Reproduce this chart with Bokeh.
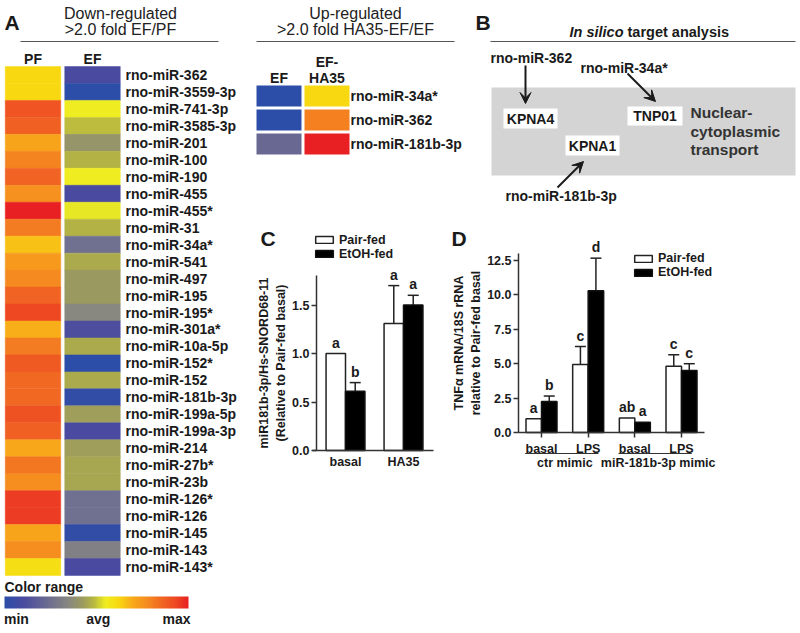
from bokeh.plotting import figure
from bokeh.models import (Range1d, FixedTicker, PrintfTickFormatter, LinearAxis,
                          LinearColorMapper, ColorBar, Label, Arrow, VeeHead, TeeHead,
                          Whisker, ColumnDataSource, Legend, LegendItem)
from bokeh.transform import dodge, linear_cmap
from bokeh.layouts import row, column
from bokeh.core.properties import value
from bokeh.embed import file_html
from bokeh.resources import INLINE

FONT = "Liberation Sans"
INK = "#1a1a1a"

# ---------------- data ----------------
down_mirnas = ["rno-miR-362", "rno-miR-3559-3p", "rno-miR-741-3p", "rno-miR-3585-3p",
               "rno-miR-201", "rno-miR-100", "rno-miR-190", "rno-miR-455", "rno-miR-455*",
               "rno-miR-31", "rno-miR-34a*", "rno-miR-541", "rno-miR-497", "rno-miR-195",
               "rno-miR-195*", "rno-miR-301a*", "rno-miR-10a-5p", "rno-miR-152*", "rno-miR-152",
               "rno-miR-181b-3p", "rno-miR-199a-5p", "rno-miR-199a-3p", "rno-miR-214",
               "rno-miR-27b*", "rno-miR-23b", "rno-miR-126*", "rno-miR-126", "rno-miR-145",
               "rno-miR-143", "rno-miR-143*"]
# relative expression, 0 = min, 0.5 = avg, 1 = max
down_pf = [0.62, 0.62, 0.90, 0.87, 0.71, 0.79, 0.86, 0.76, 1.00, 0.81, 0.66, 0.74, 0.78, 0.86,
           0.93, 0.69, 0.81, 0.89, 0.85, 0.85, 0.91, 0.87, 0.70, 0.82, 0.77, 0.95, 0.95, 0.71,
           0.77, 0.60]
down_ef = [0.10, 0.00, 0.55, 0.49, 0.40, 0.48, 0.55, 0.10, 0.54, 0.48, 0.25, 0.46, 0.42, 0.42,
           0.35, 0.12, 0.46, 0.00, 0.46, 0.02, 0.43, 0.10, 0.43, 0.45, 0.45, 0.25, 0.25, 0.02,
           0.32, 0.10]

up_mirnas = ["rno-miR-34a*", "rno-miR-362", "rno-miR-181b-3p"]
up_ef = [0.00, 0.00, 0.22]
up_ha35 = [0.62, 0.80, 1.00]

target_genes = ["KPNA4", "TNP01", "KPNA1"]
target_mirnas = ["rno-miR-362", "rno-miR-34a*", "rno-miR-181b-3p"]

c_groups = ["basal", "HA35"]
c_pair = [1.0, 1.31]
c_pair_err = [0.0, 0.39]
c_etoh = [0.61, 1.50]
c_etoh_err = [0.09, 0.10]
c_pair_sig = ["a", "a"]
c_etoh_sig = ["b", "a"]

d_conditions = ["basal", "LPS", "basal", "LPS"]
d_mimics = ["ctr mimic", "ctr mimic", "miR-181b-3p mimic", "miR-181b-3p mimic"]
d_pair = [1.0, 4.95, 1.05, 4.82]
d_pair_err = [0.0, 1.30, 0.0, 0.83]
d_etoh = [2.25, 10.3, 0.75, 4.50]
d_etoh_err = [0.40, 2.37, 0.0, 0.50]
d_pair_sig = ["a", "c", "ab", "c"]
d_etoh_sig = ["b", "d", "a", "c"]

# colour scale anchors (position, colour)
ANCHORS = [(0.00, "#2c4ea8"), (0.10, "#4a4aa0"), (0.25, "#707090"), (0.35, "#888880"),
           (0.42, "#9a9a60"), (0.48, "#b4b444"), (0.55, "#f0ee20"), (0.62, "#f8d810"),
           (0.70, "#f8a81a"), (0.78, "#f58a20"), (0.86, "#f06422"), (0.93, "#ee4a22"),
           (1.00, "#e82024")]


def _rgb(h):
    return tuple(int(h[i:i + 2], 16) for i in (1, 3, 5))


def build_palette(anchors, n=256):
    pal = []
    for k in range(n):
        t = k / (n - 1)
        for (p0, c0), (p1, c1) in zip(anchors[:-1], anchors[1:]):
            if p0 <= t <= p1:
                f = (t - p0) / (p1 - p0)
                a, b = _rgb(c0), _rgb(c1)
                pal.append("#%02x%02x%02x" % tuple(round(a[j] + (b[j] - a[j]) * f) for j in range(3)))
                break
    return pal


PALETTE = build_palette(ANCHORS)


def canvas(w, h, xr=None, yr=None):
    p = figure(width=w, height=h,
               x_range=xr if xr is not None else Range1d(0, w),
               y_range=yr if yr is not None else Range1d(h, 0),
               x_axis_type=None, y_axis_type=None, min_border=0,
               output_backend="svg", toolbar_location=None)
    p.outline_line_color = None
    return p


def txt(p, x, y, s, size="14px", style="bold", align="left", baseline="middle",
        color=INK, **kw):
    p.text(x=[x], y=[y], text=[s], text_font=value(FONT), text_font_size=size,
           text_font_style=style, text_align=align, text_baseline=baseline,
           text_color=color, **kw)


TOP_H = 206        # height of the upper right row
BOT_H = 274        # height of the lower right row

# ---------------- Panel A : down-regulated heatmap ----------------
AW, AH = 250, 630
pa = canvas(AW, AH)
n = len(down_mirnas)
ROW_H = 509 / 30
r_top = -(66 + ROW_H / 2) / ROW_H
pa.extra_y_ranges = {"row": Range1d(start=r_top + AH / ROW_H, end=r_top)}
COL_W = 59.5
c_left = -32.5 / COL_W
pa.extra_x_ranges = {"col": Range1d(start=c_left, end=c_left + AW / COL_W)}

a_src = ColumnDataSource(dict(col=[0] * n + [1] * n, row=list(range(n)) * 2,
                              val=down_pf + down_ef))
cmap = linear_cmap("val", PALETTE, 0, 1)
pa.rect(x="col", y="row", width=55.5 / COL_W, height=1.0, source=a_src, fill_color=cmap,
        line_color=cmap, line_width=0.5, x_range_name="col", y_range_name="row")
pa.text(x=[1.555] * n, y=list(range(n)), text=down_mirnas, x_range_name="col",
        y_range_name="row", text_font=value(FONT), text_font_size="14px",
        text_font_style="bold", text_baseline="middle", text_color=INK)
pa.text(x=[0, 1], y=[58, 58], text=["PF", "EF"], x_range_name="col",
        text_font=value(FONT), text_font_size="14px", text_font_style="bold",
        text_align="center", text_baseline="middle", text_color=INK)
txt(pa, 4, 22, "A", size="21px")
txt(pa, 120, 13, "Down-regulated", size="16px", style="normal", align="center", color="#222")
txt(pa, 120, 29, ">2.0 fold EF/PF", size="16px", style="normal", align="center", color="#222")
pa.segment(x0=[20], y0=[41], x1=[218], y1=[41], line_color="#555", line_width=1.2)

bar_mapper = LinearColorMapper(palette=PALETTE, low=0, high=1000)
cb = ColorBar(color_mapper=bar_mapper, orientation="horizontal", location=(4, 1),
              width=184, height=12, title="Color range",
              ticker=FixedTicker(ticks=[65, 510, 935]),
              major_label_overrides={65: "min", 510: "avg", 935: "max"},
              title_text_font=FONT, title_text_font_size="14px",
              title_text_font_style="bold", title_text_color=INK, title_standoff=4,
              major_label_text_font=FONT, major_label_text_font_size="14px",
              major_label_text_font_style="bold", major_label_text_color=INK,
              major_tick_line_color=None, minor_tick_line_color=None,
              bar_line_color=None, border_line_color=None, background_fill_alpha=0,
              padding=0, margin=0, label_standoff=2)
pa.add_layout(cb)

# ---------------- Up-regulated heatmap ----------------
UW = 225
pu = canvas(UW, TOP_H)
m = len(up_mirnas)
u_top = -95.5 / 24
pu.extra_y_ranges = {"row": Range1d(start=u_top + TOP_H / 24, end=u_top)}
u_left = -28.5 / 48
pu.extra_x_ranges = {"col": Range1d(start=u_left, end=u_left + UW / 48)}
u_src = ColumnDataSource(dict(col=[0] * m + [1] * m, row=list(range(m)) * 2,
                              val=up_ef + up_ha35))
pu.rect(x="col", y="row", width=45 / 48, height=21 / 24, source=u_src, fill_color=cmap,
        line_color=None, x_range_name="col", y_range_name="row")
pu.text(x=[1.49] * m, y=list(range(m)), text=up_mirnas, x_range_name="col",
        y_range_name="row", text_font=value(FONT), text_font_size="14px",
        text_font_style="bold", text_baseline="middle", text_color=INK)
pu.text(x=[0, 1, 1], y=[77, 61, 77], text=["EF", "EF-", "HA35"], x_range_name="col",
        text_font=value(FONT), text_font_size="14px", text_font_style="bold",
        text_align="center", text_baseline="middle", text_color=INK)
txt(pu, 105, 13, "Up-regulated", size="16px", style="normal", align="center", color="#222")
txt(pu, 105, 29, ">2.0 fold HA35-EF/EF", size="16px", style="normal", align="center",
    color="#222")
pu.segment(x0=[6], y0=[41], x1=[204], y1=[41], line_color="#555", line_width=1.2)

# ---------------- Panel B : in silico target analysis ----------------
BWID = 321
pb = canvas(BWID, TOP_H)
txt(pb, 0, 22, "B", size="21px")
txt(pb, 148, 31, "In silico", size="14.5px", style="bold italic", align="right")
txt(pb, 152, 31, "target analysis", size="14.5px", align="left")
pb.segment(x0=[15], y0=[41], x1=[320], y1=[41], line_color="#555", line_width=1.2)
pb.quad(left=[16], right=[320], top=[87], bottom=[175], fill_color="#d4d4d4", line_color=None)
gx, gy = [55, 179.5, 117], [118, 115.5, 145]
pb.rect(x=gx, y=gy, width=[54, 55, 54], height=[20, 19, 20],
        fill_color="white", line_color=None)
pb.text(x=gx, y=gy, text=target_genes, text_font=value(FONT),
        text_font_size="14px", text_font_style="bold", text_align="center",
        text_baseline="middle", text_color=INK)
pb.text(x=[215, 215, 215], y=[112, 131, 149], text=["Nuclear-", "cytoplasmic", "transport"],
        text_font=value(FONT), text_font_size="15.5px", text_font_style="bold",
        text_baseline="middle", text_color="#333")
pb.text(x=[15, 105, 30], y=[57, 67, 195], text=target_mirnas,
        text_font=value(FONT), text_font_size="14px", text_font_style="bold",
        text_baseline="middle", text_color=INK)
for (xs, ys, xe, ye) in [(50, 65, 50, 103), (152, 73, 180, 101), (82, 187, 108, 161)]:
    pb.add_layout(Arrow(x_start=xs, y_start=ys, x_end=xe, y_end=ye, line_width=2,
                        line_color=INK,
                        end=VeeHead(size=11, fill_color=INK, line_color=INK, line_width=1)))


# ---------------- bar chart helpers ----------------
def axis_style(ax, size="12.5px"):
    ax.axis_line_width = 1.5
    ax.axis_line_color = "#333"
    ax.major_tick_line_color = "#333"
    ax.major_tick_line_width = 1.5
    ax.minor_tick_line_color = None
    ax.major_tick_in = 0
    ax.major_label_text_font = FONT
    ax.major_label_text_font_style = "bold"
    ax.major_label_text_font_size = size
    ax.major_label_text_color = INK


def add_axes(p, xs, xlabels, xbounds, ypos, yticks, ybounds, ylabel, xticks_visible):
    xa = LinearAxis(fixed_location=0, bounds=xbounds, ticker=FixedTicker(ticks=xs),
                    major_label_overrides={i: s for i, s in zip(xs, xlabels)})
    axis_style(xa)
    xa.major_tick_out = 5 if xticks_visible else 0
    if not xticks_visible:
        xa.major_tick_line_color = None
    xa.major_label_standoff = 4
    p.add_layout(xa, "below")
    ya = LinearAxis(fixed_location=ypos, bounds=ybounds, ticker=FixedTicker(ticks=yticks),
                    formatter=PrintfTickFormatter(format="%.1f"), axis_label=ylabel)
    axis_style(ya)
    ya.major_tick_out = 5
    ya.major_label_standoff = 2
    ya.axis_label_text_font = FONT
    ya.axis_label_text_font_style = "bold"
    ya.axis_label_text_font_size = "12.5px"
    ya.axis_label_text_color = INK
    ya.axis_label_standoff = 1
    p.add_layout(ya, "left")


def add_bars(p, xs, pair, pair_err, etoh, etoh_err, pair_sig, etoh_sig, bw):
    src = ColumnDataSource(dict(
        x=xs, pair=pair, etoh=etoh,
        pair_up=[v + e for v, e in zip(pair, pair_err)],
        etoh_up=[v + e for v, e in zip(etoh, etoh_err)],
        pair_sig=pair_sig, etoh_sig=etoh_sig))
    r1 = p.vbar(x=dodge("x", -bw / 2), top="pair", width=bw, source=src,
                fill_color="white", line_color="#222", line_width=1.5)
    r2 = p.vbar(x=dodge("x", bw / 2), top="etoh", width=bw, source=src,
                fill_color="black", line_color="#111", line_width=1.5)
    for vals, errs, off in [(pair, pair_err, -bw / 2), (etoh, etoh_err, bw / 2)]:
        idx = [i for i, e in enumerate(errs) if e > 0]
        esrc = ColumnDataSource(dict(x=[xs[i] for i in idx], lo=[vals[i] for i in idx],
                                     hi=[vals[i] + errs[i] for i in idx]))
        p.add_layout(Whisker(source=esrc, base=dodge("x", off), lower="lo",
                             upper="hi", line_width=1.5, line_color="#222",
                             upper_head=TeeHead(size=11, line_width=1.5, line_color="#222"),
                             lower_head=None))
    for col, sig, off in [("pair_up", "pair_sig", -bw / 2), ("etoh_up", "etoh_sig", bw / 2)]:
        p.text(x=dodge("x", off), y=col, text=sig, source=src,
               text_font=value(FONT), text_font_size="14px", text_font_style="bold",
               text_align="center", text_baseline="bottom", y_offset=-3, text_color=INK)
    return r1, r2


def add_legend(p, r1, r2, loc):
    lg = Legend(items=[LegendItem(label="Pair-fed", renderers=[r1]),
                       LegendItem(label="EtOH-fed", renderers=[r2])],
                location=loc, glyph_width=22, glyph_height=9, label_height=9,
                label_standoff=4, spacing=0, padding=0, margin=0,
                border_line_color=None, background_fill_alpha=0,
                label_text_font=FONT, label_text_font_size="12.5px",
                label_text_font_style="bold", label_text_color=INK)
    p.add_layout(lg)


def panel_letter(p, x, y, s):
    p.add_layout(Label(x=x, y=y, x_units="screen", y_units="screen", text=s,
                       text_font=FONT, text_font_size="21px", text_font_style="bold",
                       text_baseline="middle", text_color=INK))


# ---------------- Panel C ----------------
CW = 200
cx0, cux = 95.0, 58.0              # px of first group centre, px per group
cy0, cuy = 450.0 - TOP_H, 97.0     # px (from top) of zero, px per unit
pc = canvas(CW, BOT_H, Range1d(-cx0 / cux, (CW - cx0) / cux),
            Range1d(-(BOT_H - cy0) / cuy, cy0 / cuy))
c_x = list(range(len(c_groups)))
c1, c2 = add_bars(pc, c_x, c_pair, c_pair_err, c_etoh, c_etoh_err,
                  c_pair_sig, c_etoh_sig, 0.335)
add_axes(pc, c_x, c_groups, ((62 - cx0) / cux, (183 - cx0) / cux), (66 - cx0) / cux,
         [0, 0.5, 1.0, 1.5], (0, 1.8),
         "miR181b-3p/Hs-SNORD68-11\n(Relative to Pair-fed basal)", False)
add_legend(pc, c1, c2, (63, BOT_H - (260.5 - TOP_H)))
panel_letter(pc, 10, BOT_H - (238 - TOP_H), "C")

# ---------------- Panel D ----------------
DW = 346
dx0, dux = 91.0, 46.67
dy0, duy = 432.0 - TOP_H, 13.76
pd = canvas(DW, BOT_H, Range1d(-dx0 / dux, (DW - dx0) / dux),
            Range1d(-(BOT_H - dy0) / duy, dy0 / duy))
d_x = list(range(len(d_conditions)))
d1, d2 = add_bars(pd, d_x, d_pair, d_pair_err, d_etoh, d_etoh_err,
                  d_pair_sig, d_etoh_sig, 0.332)
add_axes(pd, d_x, d_conditions, ((68 - dx0) / dux, (254 - dx0) / dux), (68 - dx0) / dux,
         [0, 2.5, 5.0, 7.5, 10.0, 12.5], (0, 13),
         "TNF\u03b1 mRNA/18S rRNA\nrelative to Pair-fed basal", True)
# group labels under the condition labels
mimic_names = list(dict.fromkeys(d_mimics))
g_first = [d_mimics.index(g) for g in mimic_names]
g_last = [len(d_mimics) - 1 - d_mimics[::-1].index(g) for g in mimic_names]
g_mid = [(a + b) / 2 for a, b in zip(g_first, g_last)]
pd.text(x=g_mid, y=[0] * len(g_mid), text=mimic_names, y_offset=30,
        text_font=value(FONT), text_font_size="12.5px", text_font_style="bold",
        text_align="center", text_baseline="middle", text_color=INK)
line_y = -21 / duy
pd.segment(x0=[a - 0.35 for a in g_first], y0=[line_y] * len(g_first),
           x1=[b + 0.22 for b in g_last], y1=[line_y] * len(g_last),
           line_color="#333", line_width=1)
add_legend(pd, d1, d2, (182, BOT_H - (279 - TOP_H)))
panel_letter(pd, 1, BOT_H - (238 - TOP_H), "D")

layout = row(pa, column(row(pu, pb), row(pc, pd)))
open("out.html", "w").write(file_html(layout, INLINE))
